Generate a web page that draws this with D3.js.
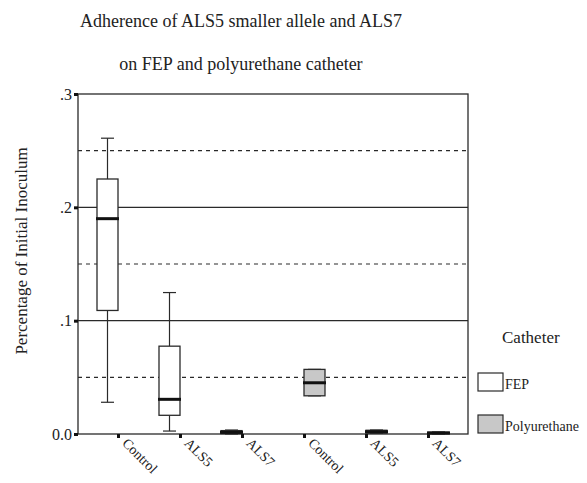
<!DOCTYPE html>
<html><head><meta charset="utf-8">
<script src="https://cdn.jsdelivr.net/npm/d3@7"></script>
<style>
html,body{margin:0;padding:0;background:#fff}
svg{display:block}
svg text{font-family:"Liberation Serif","Tinos","Times New Roman",serif !important}
</style>
</head><body><svg id="c" width="587" height="483"></svg>
<script>
const categories = ["Control","ALS5","ALS7","Control ","ALS5 ","ALS7 "];
const labels = ["Control","ALS5","ALS7","Control","ALS5","ALS7"];
const catheter = ["FEP","FEP","FEP","Polyurethane","Polyurethane","Polyurethane"];
const minV = [0.028, 0.0026, 0.0, 0.0337, 0.0006, 0.0];
const q1V  = [0.109, 0.0165, 0.0004, 0.0337, 0.0008, 0.0002];
const medV = [0.190, 0.0306, 0.0015, 0.0452, 0.0020, 0.0009];
const q3V  = [0.225, 0.0775, 0.0030, 0.0570, 0.0033, 0.0016];
const maxV = [0.261, 0.1248, 0.0035, 0.0570, 0.0035, 0.0018];
const yTicks = [0, 0.1, 0.2, 0.3];
const yTickLabels = ["0.0", ".1", ".2", ".3"];
const dashedLines = [0.05, 0.15, 0.25];
const legendItems = ["FEP","Polyurethane"];
const fills = {"FEP":"#ffffff","Polyurethane":"#c8c8c8"};
const fontNames = ["Liberation Serif"];

const svg = d3.select("#c");
const L = 78, R = 468, T = 94, B = 434;
const y = d3.scaleLinear().domain([0, 0.3]).range([B, T]);
const x = d3.scalePoint().domain(categories).range([118, 428]);
const bw = 21;
const ink = "#2a2a2a";
const tc = "#222";

function txt(sel){
  return sel.attr("font-family", fontNames[0]).style("font-family", `"${fontNames[0]}", serif`, "important").attr("fill", tc);
}

// titles
txt(svg.append("text").attr("x", 241).attr("y", 27)).attr("text-anchor","middle").attr("font-size",18).text("Adherence of ALS5 smaller allele and ALS7");
txt(svg.append("text").attr("x", 241).attr("y", 70)).attr("text-anchor","middle").attr("font-size",18).text("on FEP and polyurethane catheter");
txt(svg.append("text").attr("transform","translate(27,251) rotate(-90)")).attr("text-anchor","middle").attr("font-size",17).text("Percentage of Initial Inoculum");

// grid
svg.selectAll(".g").data([0.1,0.2]).enter().append("line")
  .attr("x1",L).attr("x2",R).attr("y1",d=>y(d)).attr("y2",d=>y(d)).attr("stroke",ink).attr("stroke-width",1.2);
svg.selectAll(".d").data(dashedLines).enter().append("line")
  .attr("x1",L).attr("x2",R).attr("y1",d=>y(d)).attr("y2",d=>y(d)).attr("stroke",ink).attr("stroke-width",1.2).attr("stroke-dasharray","4,4");

// frame
svg.append("rect").attr("x",L).attr("y",T).attr("width",R-L).attr("height",B-T).attr("fill","none").attr("stroke",ink).attr("stroke-width",1.3);

// y axis
const yAxis = d3.axisLeft(y).tickValues(yTicks).tickFormat((d,i)=>yTickLabels[i]).tickSize(0).tickPadding(6);
const ga = svg.append("g").attr("transform",`translate(${L},0)`).call(yAxis);
ga.attr("font-family", fontNames[0]);
ga.select(".domain").remove();
txt(ga.selectAll("text")).attr("font-size",16);
ga.selectAll(".tick").append("rect").attr("x",-4).attr("y",-1.5).attr("width",4).attr("height",3).attr("fill","#111");

// x axis
const xAxis = d3.axisBottom(x).tickSize(0).tickFormat((d,i)=>labels[i]);
const gx = svg.append("g").attr("transform",`translate(0,${B})`).call(xAxis);
gx.attr("font-family", fontNames[0]);
gx.select(".domain").remove();
gx.selectAll(".tick").append("rect").attr("x",-1.5).attr("y",0).attr("width",3).attr("height",4).attr("fill","#111");
txt(gx.selectAll("text")).attr("font-size",14)
  .attr("text-anchor","start").attr("dy",null).attr("y",0)
  .attr("transform","translate(3,10) rotate(45)");

// boxes
const data = categories.map((c,i)=>({c, cat:catheter[i], min:minV[i], q1:q1V[i], med:medV[i], q3:q3V[i], max:maxV[i]}));
const cx = d => x(d.c) + (d.cat==="FEP" ? -bw/2 : bw/2);
const gb = svg.selectAll(".box").data(data).enter().append("g");
gb.append("line").attr("x1",cx).attr("x2",cx).attr("y1",d=>y(d.max)).attr("y2",d=>y(d.q3)).attr("stroke",ink).attr("stroke-width",1.2);
gb.append("line").attr("x1",cx).attr("x2",cx).attr("y1",d=>y(d.q1)).attr("y2",d=>y(d.min)).attr("stroke",ink).attr("stroke-width",1.2);
gb.append("line").attr("x1",d=>cx(d)-6.5).attr("x2",d=>cx(d)+6.5).attr("y1",d=>y(d.max)).attr("y2",d=>y(d.max)).attr("stroke",ink).attr("stroke-width",1.2);
gb.append("line").attr("x1",d=>cx(d)-6.5).attr("x2",d=>cx(d)+6.5).attr("y1",d=>y(d.min)).attr("y2",d=>y(d.min)).attr("stroke",ink).attr("stroke-width",1.2);
gb.append("rect").attr("x",d=>cx(d)-bw/2).attr("width",bw)
  .attr("y",d=>y(d.q3)).attr("height",d=>Math.max(0,y(d.q1)-y(d.q3)))
  .attr("fill",d=>fills[d.cat]).attr("stroke",ink).attr("stroke-width",1.3);
gb.append("line").attr("x1",d=>cx(d)-bw/2-1).attr("x2",d=>cx(d)+bw/2+1).attr("y1",d=>y(d.med)).attr("y2",d=>y(d.med)).attr("stroke","#111").attr("stroke-width",3);

// legend
txt(svg.append("text").attr("x",502).attr("y",343)).attr("font-size",17).text("Catheter");
const lg = svg.selectAll(".lg").data(legendItems).enter().append("g").attr("transform",(d,i)=>`translate(478,${i===0?373:415})`);
lg.append("rect").attr("width",25).attr("height",18).attr("fill",d=>fills[d]).attr("stroke",ink).attr("stroke-width",1.2);
txt(lg.append("text").attr("x",27).attr("y",16)).attr("font-size",14).text(d=>d);
</script></body></html>
